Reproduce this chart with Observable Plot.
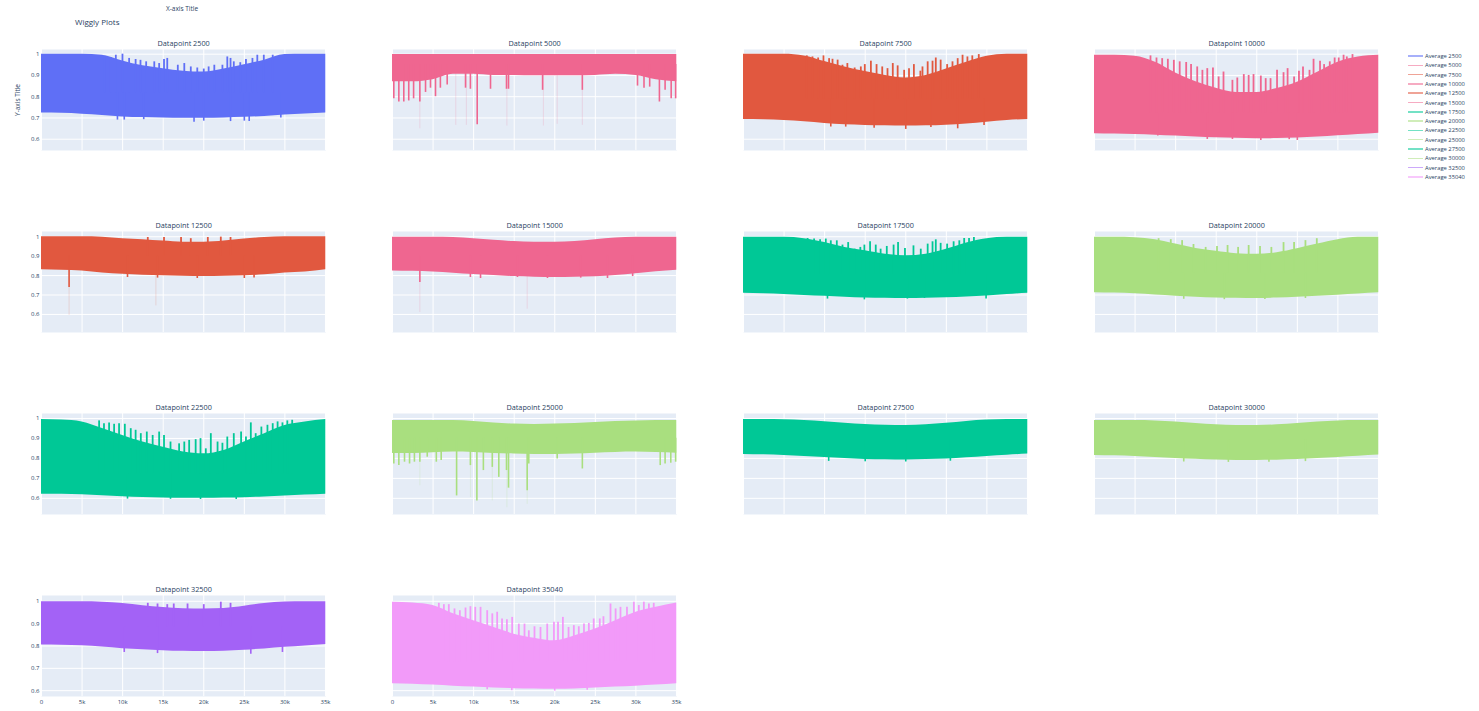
<!DOCTYPE html>
<html>
<head>
<meta charset="utf-8">
<script src="https://cdn.jsdelivr.net/npm/d3@7"></script>
<script src="https://cdn.jsdelivr.net/npm/@observablehq/plot@0.6"></script>
<style>
  body { margin: 0; background: #fff; font-family: "Open Sans", sans-serif; }
  #chart { position: relative; width: 1479px; height: 711px; overflow: hidden; background: #fff; }
  .abs { position: absolute; white-space: nowrap; color: #2a3f5f; }
  .panel { position: absolute; }
</style>
</head>
<body>
<div id="chart"></div>
<script>
// x positions at which each band's lower and upper envelope is sampled
const knots = [0, 2500, 5000, 7500, 10000, 12500, 15000, 17500, 20000, 22500, 25000, 27500, 30000, 32500, 35040];

const datapoints = [2500, 5000, 7500, 10000, 12500, 15000, 17500, 20000, 22500, 25000, 27500, 30000, 32500, 35040];
const colors = ["#5f6ff6", "#ef6690", "#e1583f", "#ef6690", "#e1583f", "#ef6690", "#00c896",
                "#a9df7f", "#00c896", "#a9df7f", "#00c896", "#a9df7f", "#a362f6", "#f29af9"];

const xTicks = [0, 5000, 10000, 15000, 20000, 25000, 30000, 35000];
const yTicks = [0.6, 0.7, 0.8, 0.9, 1];

// ---- Datapoint 2500
const lower2500 = [0.723, 0.722, 0.718, 0.712, 0.705, 0.702, 0.700, 0.699, 0.699, 0.700, 0.703, 0.707, 0.714, 0.719, 0.723];
const upper2500 = [1.0, 1.0, 1.0, 0.995, 0.968, 0.945, 0.932, 0.920, 0.916, 0.930, 0.950, 0.972, 0.998, 1.0, 1.0];
const peaks2500 = [[7800, 0.99], [8540, 0.984], [9160, 0.995], [9980, 1.0], [10800, 0.98], [11600, 0.975], [12200, 0.971],
  [12900, 0.964], [13900, 0.964], [14500, 0.956], [15100, 0.975], [15500, 0.98], [16800, 0.948], [17600, 0.956],
  [18400, 0.94], [19200, 0.935], [20000, 0.93], [20600, 0.94], [21300, 0.948], [22300, 0.948], [22900, 0.987],
  [23300, 0.98], [23700, 0.964], [24500, 0.96], [25200, 0.975], [26000, 0.98], [26600, 0.995], [27400, 0.995], [28500, 0.995]];
const dips2500 = [[9360, 0.69], [10200, 0.69], [12600, 0.692], [18800, 0.68], [20000, 0.685], [23300, 0.683],
  [25000, 0.685], [25600, 0.683], [29500, 0.70]];

// ---- Datapoint 5000
const lower5000 = [0.87, 0.87, 0.88, 0.905, 0.905, 0.9, 0.9, 0.898, 0.898, 0.898, 0.9, 0.905, 0.9, 0.88, 0.87];
const upper5000 = [0.998, 0.998, 0.998, 0.998, 0.998, 0.998, 0.998, 0.998, 0.998, 0.998, 0.998, 0.998, 0.998, 0.998, 0.998];
const dips5000 = [[160, 0.79], [780, 0.775], [1390, 0.775], [2000, 0.78], [2600, 0.79], [3370, 0.775], [4070, 0.82],
  [4680, 0.84], [5300, 0.80], [5900, 0.84], [6740, 0.855], [9000, 0.84], [9600, 0.835], [10440, 0.668], [12080, 0.835],
  [14050, 0.835], [14300, 0.835], [18500, 0.83], [23400, 0.83], [30200, 0.85], [31000, 0.84], [31700, 0.845],
  [32900, 0.775], [33600, 0.83], [34350, 0.79], [34900, 0.79]];
const faint5000 = [[3370, 0.649], [7800, 0.665], [9100, 0.665], [14100, 0.662], [18600, 0.662], [20300, 0.67], [23400, 0.665]];

// ---- Datapoint 7500
const lower7500 = [0.693, 0.692, 0.688, 0.682, 0.674, 0.668, 0.665, 0.663, 0.662, 0.663, 0.666, 0.672, 0.68, 0.688, 0.693];
const upper7500 = [1.0, 1.0, 1.0, 0.992, 0.965, 0.94, 0.918, 0.90, 0.888, 0.90, 0.93, 0.962, 0.99, 1.0, 1.0];
const peaks7500 = [[7800, 0.992], [8500, 0.987], [9200, 0.982], [9860, 0.992], [10550, 0.979], [10970, 0.976], [11600, 0.972],
  [12200, 0.948], [12800, 0.956], [13700, 0.935], [14460, 0.94], [14950, 0.951], [15700, 0.967], [16400, 0.951],
  [17100, 0.94], [17750, 0.932], [18400, 0.956], [19000, 0.945], [19800, 0.924], [20400, 0.932], [21000, 0.951],
  [21800, 0.92], [22060, 0.94], [22700, 0.964], [23300, 0.967], [23700, 0.982], [24300, 0.972], [25100, 0.951],
  [25760, 0.964], [26400, 0.979], [27000, 0.995], [27600, 0.987], [28200, 0.992], [29000, 0.998]];
const dips7500 = [[10760, 0.657], [12600, 0.657], [16100, 0.652], [20000, 0.646], [23100, 0.655], [26400, 0.649], [29650, 0.665]];

// ---- Datapoint 10000
const lower10000 = [0.626, 0.624, 0.622, 0.619, 0.615, 0.611, 0.607, 0.604, 0.602, 0.603, 0.606, 0.61, 0.616, 0.622, 0.628];
const upper10000 = [0.995, 0.995, 0.99, 0.962, 0.912, 0.87, 0.84, 0.82, 0.82, 0.838, 0.868, 0.915, 0.962, 0.987, 0.995];
const peaks10000 = [[6900, 0.992], [7640, 0.982], [8340, 0.979], [9040, 0.976], [9780, 0.971], [10500, 0.964], [11300, 0.961],
  [11900, 0.951], [12660, 0.94], [13300, 0.924], [13900, 0.932], [14600, 0.935], [15300, 0.893], [15900, 0.916],
  [17000, 0.877], [17600, 0.888], [18400, 0.904], [19000, 0.90], [19600, 0.904], [20500, 0.897], [21100, 0.885],
  [21700, 0.885], [22500, 0.924], [23300, 0.913], [23800, 0.932], [24600, 0.893], [25200, 0.92], [25700, 0.94],
  [26500, 0.924], [27000, 0.976], [27800, 0.967], [28300, 0.951], [29000, 0.964], [29600, 0.982], [30100, 0.982],
  [30700, 0.995], [31100, 0.987], [31800, 0.998]];
const dips10000 = [[7800, 0.615], [13900, 0.599], [17000, 0.599], [20500, 0.594], [24000, 0.598], [25000, 0.594]];

// ---- Datapoint 12500
const lower12500 = [0.83, 0.828, 0.824, 0.813, 0.807, 0.802, 0.799, 0.797, 0.795, 0.797, 0.799, 0.804, 0.813, 0.819, 0.83];
const upper12500 = [1.0, 1.0, 1.0, 0.998, 0.99, 0.985, 0.978, 0.972, 0.972, 0.978, 0.988, 0.996, 1.0, 1.0, 1.0];
const peaks12500 = [[13100, 0.996], [15100, 0.996], [17200, 0.996], [18400, 0.99], [20500, 0.996], [22100, 0.998], [23300, 0.996]];
const dips12500 = [[3400, 0.738], [10600, 0.79], [14300, 0.787], [19200, 0.785], [25000, 0.785], [26200, 0.788]];
const faint12500 = [[3400, 0.595], [14100, 0.644]];

// ---- Datapoint 15000
const lower15000 = [0.824, 0.822, 0.818, 0.812, 0.805, 0.8, 0.795, 0.792, 0.79, 0.791, 0.794, 0.8, 0.81, 0.82, 0.828];
const upper15000 = [0.998, 0.998, 0.998, 0.996, 0.99, 0.982, 0.975, 0.972, 0.972, 0.976, 0.985, 0.994, 0.998, 0.998, 0.998];
const dips15000 = [[3370, 0.764], [9600, 0.79], [10850, 0.785], [15400, 0.79], [19100, 0.785], [23200, 0.787], [26500, 0.785], [29600, 0.795]];
const faint15000 = [[3370, 0.61], [16600, 0.627]];

// ---- Datapoint 17500
const lower17500 = [0.709, 0.707, 0.703, 0.698, 0.693, 0.689, 0.685, 0.683, 0.682, 0.683, 0.686, 0.69, 0.695, 0.702, 0.709];
const upper17500 = [0.997, 0.997, 0.997, 0.99, 0.97, 0.945, 0.928, 0.91, 0.902, 0.91, 0.935, 0.968, 0.99, 0.997, 0.997];
const peaks17500 = [[7900, 0.991], [8700, 0.988], [9440, 0.984], [10140, 0.988], [10760, 0.979], [11500, 0.979], [12200, 0.957],
  [12900, 0.97], [13700, 0.936], [14400, 0.945], [14900, 0.957], [15600, 0.974], [16300, 0.957], [16900, 0.936],
  [17660, 0.95], [18500, 0.957], [19050, 0.97], [19900, 0.94], [20950, 0.953], [21850, 0.936], [22700, 0.962],
  [23300, 0.974], [23700, 0.984], [24300, 0.966], [25100, 0.962], [25900, 0.974], [26600, 0.979], [27200, 0.991],
  [27800, 0.991], [28400, 0.996]];
const dips17500 = [[10350, 0.679], [14900, 0.675], [20200, 0.679], [22300, 0.682], [29900, 0.679]];

// ---- Datapoint 20000
const lower20000 = [0.712, 0.71, 0.706, 0.7, 0.694, 0.689, 0.685, 0.683, 0.682, 0.684, 0.688, 0.693, 0.699, 0.705, 0.711];
const upper20000 = [0.997, 0.997, 0.995, 0.985, 0.962, 0.94, 0.925, 0.913, 0.91, 0.918, 0.938, 0.962, 0.985, 0.997, 0.997];
const peaks20000 = [[7900, 0.99], [9400, 0.985], [10800, 0.98], [12200, 0.96], [13700, 0.945], [15100, 0.95], [16400, 0.955],
  [17700, 0.945], [19000, 0.955], [20400, 0.95], [21800, 0.945], [23300, 0.97], [24600, 0.97], [26000, 0.98], [27400, 0.99]];
const dips20000 = [[11000, 0.678], [16000, 0.676], [21000, 0.677], [26000, 0.682]];

// ---- Datapoint 22500
const lower22500 = [0.621, 0.62, 0.618, 0.613, 0.608, 0.604, 0.601, 0.6, 0.6, 0.601, 0.603, 0.607, 0.612, 0.617, 0.621];
const upper22500 = [0.995, 0.992, 0.983, 0.95, 0.915, 0.882, 0.856, 0.832, 0.823, 0.84, 0.882, 0.924, 0.965, 0.983, 0.995];
const peaks22500 = [[7100, 0.988], [7700, 0.974], [8330, 0.978], [8950, 0.971], [9560, 0.974], [10270, 0.971], [11000, 0.949],
  [11600, 0.941], [12240, 0.924], [12980, 0.932], [13700, 0.915], [14500, 0.932], [15100, 0.915], [15900, 0.882],
  [16960, 0.873], [17600, 0.882], [18200, 0.89], [19000, 0.894], [19600, 0.899], [20250, 0.848], [20870, 0.924],
  [21700, 0.882], [22300, 0.876], [22900, 0.907], [23700, 0.924], [24600, 0.932], [25200, 0.907], [25800, 0.978],
  [26400, 0.924], [27100, 0.957], [27850, 0.966], [28500, 0.974], [29100, 0.983], [29700, 0.978], [30300, 0.988], [30900, 0.991]];
const dips22500 = [[10600, 0.596], [15900, 0.595], [19600, 0.594], [24000, 0.594]];

// ---- Datapoint 25000
const lower25000 = [0.825, 0.825, 0.828, 0.832, 0.83, 0.825, 0.822, 0.82, 0.82, 0.822, 0.826, 0.83, 0.832, 0.83, 0.826];
const upper25000 = [0.99, 0.99, 0.99, 0.99, 0.985, 0.978, 0.972, 0.97, 0.972, 0.975, 0.98, 0.985, 0.988, 0.99, 0.99];
const dips25000 = [[160, 0.772], [780, 0.764], [1480, 0.781], [2100, 0.772], [2700, 0.781], [3370, 0.781], [4280, 0.806],
  [5400, 0.781], [6000, 0.789], [7900, 0.612], [9600, 0.764], [10400, 0.587], [11200, 0.739], [12300, 0.755],
  [13100, 0.705], [14050, 0.739], [14300, 0.651], [16600, 0.638], [16800, 0.772], [20300, 0.797], [23400, 0.747],
  [33000, 0.764], [33600, 0.772], [34300, 0.776], [34900, 0.781]];
const faint25000 = [[3370, 0.663], [9600, 0.604], [12300, 0.587], [14100, 0.553], [16600, 0.57]];

// ---- Datapoint 27500
const lower27500 = [0.82, 0.818, 0.815, 0.81, 0.804, 0.799, 0.795, 0.793, 0.792, 0.794, 0.797, 0.803, 0.81, 0.816, 0.822];
const upper27500 = [0.995, 0.995, 0.994, 0.99, 0.984, 0.976, 0.97, 0.966, 0.965, 0.968, 0.976, 0.985, 0.992, 0.995, 0.995];
const dips27500 = [[10500, 0.785], [15000, 0.783], [20000, 0.782], [25500, 0.786]];

// ---- Datapoint 30000
const lower30000 = [0.815, 0.813, 0.81, 0.805, 0.8, 0.796, 0.792, 0.79, 0.79, 0.791, 0.794, 0.799, 0.805, 0.811, 0.817];
const upper30000 = [0.99, 0.99, 0.99, 0.988, 0.982, 0.975, 0.968, 0.965, 0.965, 0.968, 0.975, 0.983, 0.988, 0.99, 0.99];
const dips30000 = [[11000, 0.782], [16500, 0.78], [21500, 0.781], [26000, 0.784]];

// ---- Datapoint 32500
const lower32500 = [0.804, 0.803, 0.801, 0.795, 0.788, 0.783, 0.779, 0.776, 0.775, 0.777, 0.781, 0.787, 0.794, 0.8, 0.807];
const upper32500 = [0.998, 0.998, 0.998, 0.996, 0.99, 0.98, 0.972, 0.967, 0.966, 0.968, 0.978, 0.99, 0.997, 0.998, 0.998];
const peaks32500 = [[13100, 0.991], [14300, 0.988], [15500, 0.985], [16300, 0.988], [18000, 0.988], [20000, 0.985], [22100, 0.996], [23300, 0.991]];
const dips32500 = [[10200, 0.771], [14300, 0.766], [25800, 0.763], [29700, 0.771]];

// ---- Datapoint 35040
const lower35040 = [0.631, 0.629, 0.625, 0.62, 0.616, 0.612, 0.609, 0.607, 0.606, 0.608, 0.612, 0.616, 0.62, 0.625, 0.631];
const upper35040 = [0.996, 0.992, 0.981, 0.944, 0.913, 0.883, 0.853, 0.835, 0.823, 0.846, 0.876, 0.913, 0.951, 0.973, 0.992];
const peaks35040 = [[5710, 0.991], [6330, 0.985], [6940, 0.985], [7640, 0.966], [8300, 0.958], [9000, 0.97], [9600, 0.976],
  [10200, 0.973], [10850, 0.973], [11670, 0.958], [12300, 0.944], [12900, 0.951], [13500, 0.921], [14100, 0.917],
  [14750, 0.928], [15570, 0.898], [16270, 0.898], [16800, 0.868], [17500, 0.886], [18240, 0.883], [19070, 0.898],
  [19900, 0.906], [20400, 0.906], [21000, 0.928], [21700, 0.883], [22350, 0.891], [22960, 0.886], [23600, 0.898],
  [24200, 0.901], [24800, 0.921], [25550, 0.921], [26000, 0.931], [26870, 0.988], [27500, 0.966], [28100, 0.973],
  [28900, 0.973], [29750, 0.996], [30360, 0.981], [30980, 0.996], [31600, 0.988], [32200, 0.991]];
const dips35040 = [[11670, 0.604], [14700, 0.6], [20000, 0.598], [24000, 0.602]];

// y range shared along each row of panels
const rowDomains = [[0.547, 1.022], [0.507, 1.027], [0.519, 1.025], [0.574, 1.026]];

const lowers = [lower2500, lower5000, lower7500, lower10000, lower12500, lower15000, lower17500,
  lower20000, lower22500, lower25000, lower27500, lower30000, lower32500, lower35040];
const uppers = [upper2500, upper5000, upper7500, upper10000, upper12500, upper15000, upper17500,
  upper20000, upper22500, upper25000, upper27500, upper30000, upper32500, upper35040];
const peaks = [peaks2500, [], peaks7500, peaks10000, peaks12500, [], peaks17500,
  peaks20000, peaks22500, [], [], [], peaks32500, peaks35040];
const dips = [dips2500, dips5000, dips7500, dips10000, dips12500, dips15000, dips17500,
  dips20000, dips22500, dips25000, dips27500, dips30000, dips32500, dips35040];
const faints = [[], faint5000, [], [], faint12500, faint15000, [], [], [], faint25000, [], [], [], []];

// panel placement
const colX = [40.7, 392, 742.7, 1094];
const rowY = [49.3, 230.7, 413.3, 595];
const plotW = 284.3, plotH = 101;
const mL = 30, mR = 6, mT = 14, mB = 14;

const chart = document.getElementById("chart");
const ink = "#2a3f5f";

function addText(txt, style) {
  const d = document.createElement("div");
  d.className = "abs";
  d.textContent = txt;
  Object.assign(d.style, style);
  chart.appendChild(d);
  return d;
}

datapoints.forEach((id, i) => {
  const col = i % 4, row = Math.floor(i / 4);
  const showY = col === 0, showX = row === 3;
  const color = colors[i];
  const band = knots.map((x, k) => ({x, lo: lowers[i][k], hi: uppers[i][k]}));
  const base = (d3.max(lowers[i]) + d3.min(uppers[i])) / 2;

  const marks = [
    Plot.frame({fill: "#E5ECF6", stroke: null}),
    Plot.gridX({ticks: xTicks, stroke: "#fff", strokeOpacity: 1, strokeWidth: 1}),
    Plot.gridY({ticks: yTicks, stroke: "#fff", strokeOpacity: 1, strokeWidth: 1}),
    Plot.ruleX(faints[i], {x: d => d[0], y1: d => d[1], y2: base, stroke: color, strokeOpacity: 0.18, strokeWidth: 1}),
    Plot.areaY(band, {x: "x", y1: "lo", y2: "hi", fill: color, curve: "monotone-x"}),
    Plot.ruleX(peaks[i], {x: d => d[0], y1: base, y2: d => d[1], stroke: color, strokeWidth: 1.8}),
    Plot.ruleX(dips[i], {x: d => d[0], y1: d => d[1], y2: base, stroke: color, strokeWidth: 1.6}),
    Plot.text([`Datapoint ${id}`], {frameAnchor: "top", lineAnchor: "middle", dy: -5.5, fontSize: 7.3, fill: ink})
  ];
  if (showY) marks.push(Plot.axisY({ticks: yTicks, tickSize: 0, tickPadding: 2, fontSize: 6, label: null,
    tickFormat: d => String(d), fill: ink}));
  if (showX) marks.push(Plot.axisX({ticks: xTicks, tickSize: 0, tickPadding: 3, fontSize: 6, label: null,
    tickFormat: d => d === 0 ? "0" : `${d / 1000}k`, fill: ink}));

  const svg = Plot.plot({
    width: plotW + mL + mR,
    height: plotH + mT + mB,
    marginLeft: mL, marginRight: mR, marginTop: mT, marginBottom: mB,
    style: {fontFamily: "Open Sans", color: ink, background: "transparent", overflow: "visible"},
    x: {domain: [0, 35040], ...(showX ? {} : {axis: null})},
    y: {domain: rowDomains[row], ...(showY ? {} : {axis: null})},
    marks
  });
  svg.classList.add("panel");
  svg.style.left = `${colX[col] - mL}px`;
  svg.style.top = `${rowY[row] - mT}px`;
  chart.appendChild(svg);
});

// titles
addText("X-axis Title", {left: "166px", top: "5px", fontSize: "6.5px", lineHeight: "8px"});
addText("Wiggly Plots", {left: "75px", top: "16px", fontSize: "8px", lineHeight: "11px"});
addText("Y-axis Title", {left: "18px", top: "100px", fontSize: "6.5px", lineHeight: "8px",
  transform: "translate(-50%, -50%) rotate(-90deg)"});

// legend
datapoints.forEach((id, i) => {
  const y = 56 + 9.3 * i;
  const line = document.createElement("div");
  Object.assign(line.style, {position: "absolute", left: "1408px", top: `${y - 0.75}px`, width: "15px", height: "1.5px",
    background: colors[i], opacity: 0.55});
  chart.appendChild(line);
  addText(`Average ${id}`, {left: "1425px", top: `${y - 4}px`, fontSize: "5.8px", lineHeight: "8px"});
});
</script>
</body>
</html>
